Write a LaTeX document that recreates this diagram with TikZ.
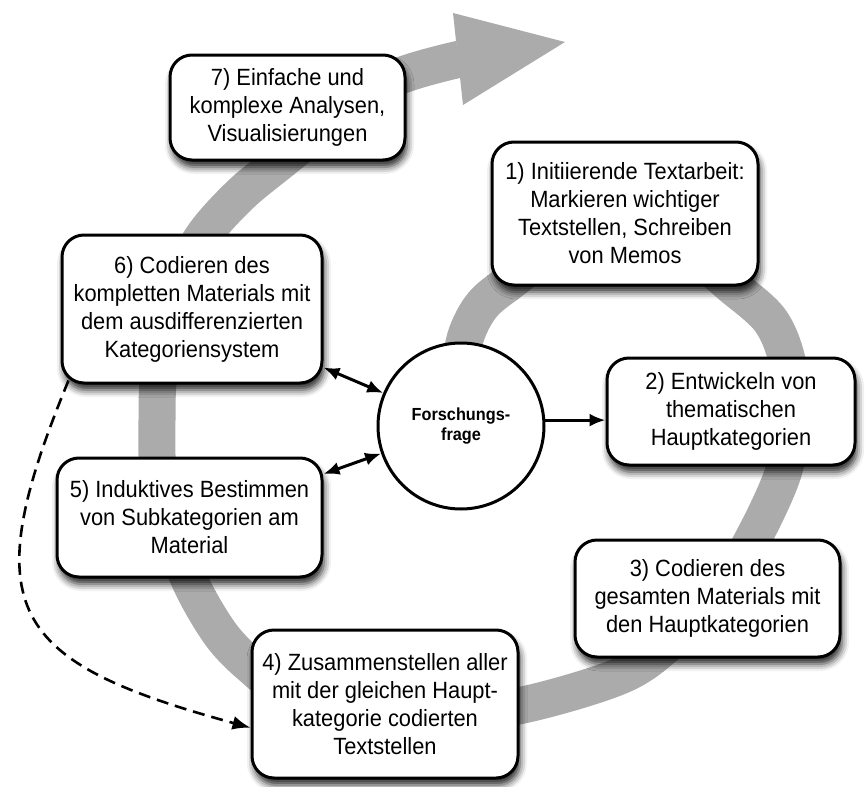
\documentclass[tikz,border=0pt]{standalone}
\usepackage{fontspec}
\setmainfont{Liberation Sans}[FakeStretch=0.93]
\usetikzlibrary{arrows.meta,shadows.blur,calc}
\begin{document}
\begin{tikzpicture}[x=1pt,y=-1pt,
  box/.style={draw=black, line width=3pt, rounded corners=22pt, fill=white,
    align=center, inner sep=0pt, font=\fontsize{23.5}{28}\selectfont,
    blur shadow={shadow xshift=2pt, shadow yshift=-7pt, shadow blur radius=7pt, shadow opacity=85}},
  band/.style={line width=37pt, draw=black!33},
  bandhead/.style={fill=black!33, draw=none},
  conn/.style={line width=3pt, -{Latex[length=16pt,width=13pt]}},
  dconn/.style={line width=3pt, {Latex[length=16pt,width=13pt]}-{Latex[length=16pt,width=13pt]}},
  dashconn/.style={line width=2.6pt, dash pattern=on 12pt off 7pt, -{Latex[length=18pt,width=14pt]}}
]
\useasboundingbox (0,0) rectangle (868,787);

% grey spiral band
\draw[band] plot[smooth, tension=0.55] coordinates {
 (462,390) (464,343) (480,308) (506,285) (560,250) (640,240) (700,262) (733,287)
 (770,320) (787,360) (792,410) (784,470) (754,537) (720,592) (670,642) (620,676)
 (518,706) (430,714) (340,707) (280,687) (250,665) (225,640) (205,610) (188,577)
 (170,530) (160,490) (157,455) (157,420) (158,383) (165,330) (180,280) (204,235)
 (240,195) (280,162) (340,115) (395,78) (460,59)};
\fill[bandhead] (453,13) -- (565,42) -- (463,105) -- cycle;

% boxes
\node[box, minimum width=235, minimum height=105] (b7) at (287.5,107.5)
  {7) Einfache und\\komplexe Analysen,\\Visualisierungen};
\node[box, minimum width=266, minimum height=143] (b1) at (625,213.5)
  {1) Initiierende Textarbeit:\\Markieren wichtiger\\Textstellen, Schreiben\\von Memos};
\node[box, minimum width=260, minimum height=148] (b6) at (192,309)
  {6) Codieren des\\kompletten Materials mit\\dem ausdifferenzierten\\Kategoriensystem};
\node[box, minimum width=248, minimum height=107] (b2) at (731,411.5)
  {2) Entwickeln von\\thematischen\\Hauptkategorien};
\node[box, minimum width=265, minimum height=119] (b5) at (189.5,517.5)
  {5) Induktives Bestimmen\\von Subkategorien am\\Material};
\node[box, minimum width=265, minimum height=117] (b3) at (707.5,598.5)
  {3) Codieren des\\gesamten Materials mit\\den Hauptkategorien};
\node[box, minimum width=266, minimum height=148] (b4) at (385,704)
  {4) Zusammenstellen aller\\mit der gleichen Haupt-\\kategorie codierten\\Textstellen};

% central circle
\node[circle, draw=black, line width=3pt, fill=white, minimum size=166, inner sep=0pt,
  align=center, font=\bfseries\fontsize{17.5}{20}\selectfont] (circ) at (461,426)
  {Forschungs-\\frage};

% connectors
\draw[dconn] (b6.-24) -- (circ.157);
\draw[dconn] (b5.18) -- (circ.199);
\draw[conn] (circ.4) -- (circ.4 -| b2.west);
\draw[dashconn] ($(b6.south west)+(8,-4)$) .. controls +(-95,230) and +(-241,-66) .. (b4.190);
\end{tikzpicture}
\end{document}
